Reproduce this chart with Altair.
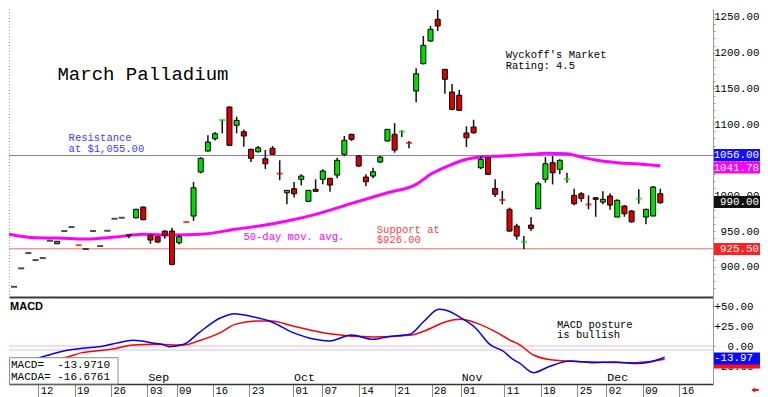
import altair as alt
import pandas as pd
import numpy as np

# ---------------- data ----------------
day_idx = list(range(-4, 87))   # trading-day index, 0 = Aug 12
opens = [872.3, 898.1, 919.5, 909.7, 912.5, 936.7, 932.5, 950.3, 955.9, 930.9,
         925.1, 950.3, 929.3, 950.7, 967.5, 968.9, 944.3, 968.9, 983.9, 944.3,
         942.3, 950.3, 950.3, 934.0, 963.2, 971.3, 1032.9, 1062.3, 1079.5, 1105.2,
         1123.9, 1098.3, 1089.3, 1064.7, 1061.3, 1051.5, 1066.1, 1031.2, 1003.9, 1009.5,
         1022.7, 991.9, 1008.7, 1022.7, 1024.1, 1028.7, 1057.7, 1085.7, 1055.3, 1025.9,
         1027.3, 1046.9, 1076.3, 1085.7, 1089.0, 1074.1, 1146.3, 1184.5, 1216.3, 1246.7,
         1176.7, 1144.9, 1140.3, 1087.5, 1095.9, 1038.9, 1052.9, 1009.8, 994.3, 980.7,
         957.3, 935.1, 958.7, 981.5, 1022.7, 1045.9, 1036.7, 1022.5, 1000.3, 1002.5,
         987.9, 996.9, 990.9, 999.3, 969.9, 985.3, 978.3, 995.3, 969.9, 971.3,
         1002.5]
highs = [872.3, 898.1, 919.5, 909.7, 912.5, 936.7, 936.0, 950.3, 955.9, 930.9,
         925.1, 950.3, 929.3, 950.7, 967.5, 968.9, 945.7, 981.5, 984.5, 945.3,
         942.5, 951.2, 955.0, 944.3, 963.5, 1018.9, 1053.6, 1084.3, 1088.9, 1105.7,
         1124.5, 1110.4, 1092.6, 1065.5, 1069.3, 1063.7, 1069.3, 1049.3, 1007.3, 1018.9,
         1029.7, 1007.8, 1022.7, 1036.7, 1025.0, 1052.9, 1083.3, 1086.5, 1056.7, 1029.7,
         1039.0, 1055.3, 1093.0, 1101.3, 1091.3, 1076.3, 1178.0, 1223.3, 1237.3, 1259.7,
         1177.0, 1156.1, 1148.1, 1096.9, 1106.1, 1055.3, 1053.5, 1022.7, 1006.3, 983.0,
         960.5, 943.3, 969.9, 1019.3, 1053.9, 1055.3, 1050.7, 1031.9, 1009.5, 1004.9,
         1000.3, 997.9, 1006.0, 1003.1, 994.7, 986.7, 979.7, 1008.7, 981.5, 1013.3,
         1009.5]
lows = [872.3, 898.1, 919.5, 909.7, 912.5, 936.7, 932.5, 950.3, 955.9, 930.5,
        925.1, 950.3, 929.3, 950.7, 967.5, 968.9, 940.1, 968.0, 965.5, 932.5,
        934.0, 939.5, 902.3, 931.5, 962.5, 964.6, 1031.1, 1061.8, 1077.2, 1087.1,
        1069.5, 1087.1, 1068.4, 1046.9, 1060.4, 1037.2, 1056.7, 1021.3, 987.7, 997.1,
        1014.3, 991.0, 1005.0, 1015.7, 1005.2, 1024.1, 1055.0, 1076.3, 1039.9, 1013.0,
        1024.1, 1045.9, 1076.0, 1060.0, 1081.9, 1066.1, 1130.5, 1183.6, 1215.4, 1230.3,
        1142.5, 1119.3, 1118.3, 1067.9, 1086.5, 1036.9, 1029.0, 998.0, 987.7, 949.3,
        938.3, 924.7, 950.3, 980.7, 1018.1, 1015.5, 1029.7, 1017.9, 986.3, 991.3,
        980.7, 970.3, 987.7, 980.0, 969.9, 970.3, 961.9, 988.5, 959.9, 971.3,
        988.5]
closes = [872.3, 898.1, 919.5, 909.7, 912.5, 936.7, 936.0, 950.3, 955.9, 930.5,
          925.1, 950.3, 929.3, 950.7, 967.5, 968.9, 944.3, 980.7, 966.1, 937.7,
          934.9, 944.3, 903.7, 942.3, 962.8, 1010.9, 1052.1, 1074.9, 1086.5, 1105.7,
          1070.3, 1105.3, 1083.3, 1052.1, 1066.9, 1044.5, 1057.7, 1030.8, 1007.3, 1002.5,
          1027.3, 1007.3, 1005.9, 1034.3, 1014.7, 1049.3, 1077.3, 1078.7, 1041.3, 1019.3,
          1033.3, 1053.9, 1092.7, 1063.7, 1089.5, 1073.7, 1170.5, 1210.3, 1232.7, 1237.3,
          1162.7, 1120.7, 1119.3, 1080.9, 1087.9, 1050.7, 1029.7, 1001.7, 993.9, 950.3,
          943.3, 935.5, 954.1, 1016.5, 1044.5, 1031.9, 1049.3, 1022.9, 988.5, 996.1,
          987.5, 994.7, 994.7, 986.7, 993.3, 974.5, 963.3, 995.7, 980.7, 1011.9,
          990.0]

ma_idx = [-5, -1, 2, 6, 10, 14, 18, 22, 27, 31, 34, 38, 43, 48, 52, 54, 57, 59,
          61, 64, 68, 70, 73, 75, 77, 80, 83, 86]
ma_val = [946.5, 940.9, 940.5, 939.1, 941.9, 945.7, 944.7, 945.7, 953.1, 958.7,
          964.3, 973.7, 989.1, 1003.9, 1015.7, 1029.7, 1043.7, 1050.7, 1053.9, 1055.3,
          1057.7, 1059.1, 1058.5, 1053.9, 1049.7, 1045.9, 1044.1, 1041.78]

macd_idx = [-1, 1, 4, 6, 9, 11, 13, 16, 17, 18, 20, 22, 25, 27, 29, 32, 35, 38, 40,
            43, 46, 48, 51, 53, 55, 56, 58, 60, 62, 64, 65, 66, 68, 70, 73, 76, 79,
            82, 84, 86]
macd_val = [-18.0, -12.5, -5.4, -2.9, 0.0, 4.2, 7.1, 3.5, 2.1, -0.8, 2.1, 16.0, 35.0,
            40.4, 37.5, 30.4, 16.7, 8.3, 6.25, 13.75, 8.3, 11.7, 14.6, 31.25, 45.8,
            44.6, 35.4, 22.9, 2.1, -7.5, -15.6, -20.8, -33.3, -26.25, -18.75, -20.8,
            -20.0, -22.0, -20.0, -13.97]
sig_idx = [-1, 4, 6, 10, 13, 16, 20, 22, 25, 27, 30, 32, 35, 40, 46, 51, 53, 56, 58,
           60, 63, 65, 66, 68, 71, 75, 82, 86]
sig_val = [-20.0, -13.75, -8.3, -4.2, 1.25, 2.1, 1.25, 6.25, 16.7, 27.0, 31.25, 31.25,
           25.0, 15.4, 11.25, 13.3, 18.75, 30.4, 33.3, 29.2, 16.7, 6.25, 2.1, -11.25,
           -17.9, -19.6, -20.8, -16.68]

tick_idx = [0, 5, 10, 15, 19, 24, 29, 35, 39, 44, 49, 54, 58, 64, 69, 74, 78, 83, 88]
tick_lbl = ["12", "19", "26", "03", "09", "16", "23", "01", "07", "14", "21", "28",
            "01", "11", "18", "25", "02", "09", "16"]
month_idx = [15, 35, 58, 78]
month_lbl = ["Sep", "Oct", "Nov", "Dec"]

resistance = 1056.0
support = 925.5
macd_last = -13.9710
macda_last = -16.6761

# right-hand value boxes (value, label, colour, display shift in price units)
box_vals = [1056.0, 1041.78, 990.0, 925.5]
box_text = ["1056.00", "1041.78", "990.00", "925.50"]
box_fill = ["#1010ff", "#ff00ff", "#111111", "#ff2020"]
box_shift = [0.7, -2.6, 0.9, -0.4]

MONO = "Liberation Mono"

# ---------------- frames ----------------
cand = pd.DataFrame(dict(i=day_idx, o=opens, h=highs, l=lows, c=closes))
cand["dir"] = np.where(cand.c > cand.o, "up", np.where(cand.c < cand.o, "down", "flat"))
cand["body"] = (cand.c - cand.o).abs() >= 1
ma = pd.DataFrame(dict(i=ma_idx, v=ma_val))
macd = pd.DataFrame(dict(i=macd_idx, v=macd_val))
sig = pd.DataFrame(dict(i=sig_idx, v=sig_val))

X_DOM = [-4.0, 92.64]
P_DOM = [858.0, 1261.1]
M_DOM = [-47.5, 60.0]
W = 704
H_TOP = 288
H_BOT = 86
LAB_R = 750          # right edge of the price labels (plot coords)

xs = alt.Scale(domain=X_DOM, nice=False, zero=False)
ps = alt.Scale(domain=P_DOM, nice=False, zero=False)
ms = alt.Scale(domain=M_DOM, nice=False, zero=False)

top_x_axis = alt.Axis(labels=False, ticks=False, domainColor="#3a3a3a", domainWidth=2,
                      grid=False, title=None)
top_y_axis = alt.Axis(orient="right", values=list(range(870, 1251, 10)),
                      labelExpr="datum.value % 50 == 0 ? format(datum.value, '.2f') : ''",
                      tickSize=2, tickColor="#999999", domainColor="#999999",
                      labelAlign="right", labelPadding=LAB_R - W - 2, labelFont=MONO,
                      labelFontSize=10.8, labelColor="#000000", labelOverlap=False,
                      grid=False, title=None)

XT = alt.X("i:Q", scale=xs, axis=top_x_axis)

def YT(field):
    return alt.Y(field, type="quantitative", scale=ps, axis=top_y_axis)

cscale = alt.Scale(domain=["up", "down", "flat"], range=["#00dd00", "#dd0000", "#000000"])

frame_df = pd.DataFrame(dict(k=[0]))
left_dots = alt.Chart(frame_df).mark_rule(color="#9a9a9a", strokeWidth=1,
                                          strokeDash=[1, 2]).encode(
    x=alt.value(0.5), y=alt.value(0), y2=alt.value(H_TOP))

levels = pd.DataFrame(dict(v=[resistance, support], col=["#7676ff", "#ff6a6a"]))
level_rules = alt.Chart(levels).mark_rule(strokeWidth=1).encode(
    y=YT("v"), color=alt.Color("col:N", scale=None))

ma_line = alt.Chart(ma).mark_line(color="#ff00ff", strokeWidth=3, interpolate="monotone",
                                  clip=True).encode(x=XT, y=YT("v"))

wicks = alt.Chart(cand).mark_rule(color="#111111", strokeWidth=1.5, clip=True).encode(
    x=XT, y=YT("l"), y2="h:Q")
bodies = alt.Chart(cand[cand.body]).mark_bar(size=5, stroke="#000000", strokeWidth=1,
                                             orient="vertical", clip=True).encode(
    x=XT, y=YT("o"), y2="c:Q", color=alt.Color("dir:N", scale=cscale, legend=None))
dashes = alt.Chart(cand[~cand.body]).mark_tick(orient="horizontal", size=6,
                                               thickness=2, clip=True).encode(
    x=XT, y=YT("c"), color=alt.Color("dir:N", scale=cscale, legend=None))

ann = pd.DataFrame(dict(
    i=[2.05, 64.46, 3.6, 27.95, 46.52],
    v=[1161.7, 1192.1, 1076.3, 937.3, 947.9],
    t=["March Palladium", "Wyckoff's Market\nRating: 4.5", "Resistance\nat $1,055.00",
       "50-day mov. avg.", "Support at\n$926.00"],
    fs=[19, 10.5, 10.5, 10.5, 10.5],
    col=["#000000", "#000000", "#4040ff", "#ff00ff", "#ff4040"]))
ann_text = alt.Chart(ann).mark_text(align="left", baseline="alphabetic", font=MONO,
                                    lineBreak="\n", lineHeight=10.5).encode(
    x=XT, y=YT("v"), text="t:N", size=alt.Size("fs:Q", scale=None),
    color=alt.Color("col:N", scale=None))

boxes = pd.DataFrame(dict(v=box_vals, t=box_text, fill=box_fill, sh=box_shift))
box_base = alt.Chart(boxes).transform_calculate(
    ctr="datum.v + datum.sh", top="datum.v + datum.sh + 8.4",
    bot="datum.v + datum.sh - 8.4")
box_rect = box_base.mark_rect().encode(
    x=alt.value(705), x2=alt.value(751), y=YT("top"), y2="bot:Q",
    fill=alt.Fill("fill:N", scale=None))
box_lbl = box_base.mark_text(align="right", baseline="middle", font=MONO, fontSize=10.8,
                             color="white").encode(
    x=alt.value(LAB_R), y=YT("ctr"), text="t:N")

top = alt.layer(left_dots, level_rules, ma_line, wicks, bodies, dashes, ann_text,
                box_rect, box_lbl).properties(width=W, height=H_TOP)

# ---------------- MACD panel ----------------
lab_expr = "''"
for ti, tl in reversed(list(zip(tick_idx, tick_lbl))):
    lab_expr = f"datum.value == {ti} ? '{tl}' : ({lab_expr})"

bot_x_axis = alt.Axis(values=tick_idx, labelExpr=lab_expr, tickSize=14, tickColor="#8a8a8a",
                      domainColor="#333333", domainWidth=1.5, labelAlign="left",
                      labelBaseline="middle", labelPadding=-7.5, labelOffset=2,
                      labelFont=MONO, labelFontSize=10.5, labelColor="#000000",
                      labelOverlap=False, labelFlush=False, grid=False, title=None)
bot_y_axis = alt.Axis(orient="right", values=[-25, 0, 25, 50],
                      labelExpr="datum.value > 0 ? '+' + format(datum.value, '.2f') : format(datum.value, '.2f')",
                      tickSize=2, tickColor="#999999", domainColor="#999999",
                      labelAlign="right", labelPadding=LAB_R - 6 - W - 2, labelFont=MONO,
                      labelFontSize=10.8, labelColor="#000000", labelOverlap=False,
                      grid=False, title=None)
XB = alt.X("i:Q", scale=xs, axis=bot_x_axis)

def YB(field):
    return alt.Y(field, type="quantitative", scale=ms, axis=bot_y_axis)

mlev = pd.DataFrame(dict(v=[0.0, -5.0], col=["#ffb4b4", "#c4c4ff"]))
m_rules = alt.Chart(mlev).mark_rule(strokeWidth=1).encode(
    y=YB("v"), color=alt.Color("col:N", scale=None))
sig_line = alt.Chart(sig).mark_line(color="#ff0000", strokeWidth=1.5,
                                    interpolate="monotone").encode(x=XB, y=YB("v"))
macd_line = alt.Chart(macd).mark_line(color="#0000ff", strokeWidth=1.5,
                                      interpolate="monotone").encode(x=XB, y=YB("v"))

months = pd.DataFrame(dict(i=month_idx, t=month_lbl, v=[-43.75] * 4))
month_text = alt.Chart(months).mark_text(align="left", baseline="alphabetic", font=MONO,
                                         fontSize=11.5, dx=1, color="#000000").encode(
    x=XB, y=YB("v"), text="t:N")

mann = pd.DataFrame(dict(i=[71.23], v=[22.9], t=["MACD posture\nis bullish"]))
mann_text = alt.Chart(mann).mark_text(align="left", baseline="alphabetic", font=MONO,
                                      fontSize=10.5, lineBreak="\n", lineHeight=10,
                                      color="#000000").encode(
    x=XB, y=YB("v"), text="t:N")

mtitle = pd.DataFrame(dict(i=[-3.86], v=[44.6], t=["MACD"]))
mtitle_text = alt.Chart(mtitle).mark_text(align="left", baseline="alphabetic",
                                          font="Liberation Sans", fontSize=11,
                                          fontWeight="bold", color="#000000").encode(
    x=XB, y=YB("v"), text="t:N")

legend_box = alt.Chart(frame_df).mark_rect(fill="white", stroke="#8c8c8c",
                                           strokeWidth=1).encode(
    x=alt.value(0.5), x2=alt.value(109), y=alt.value(59.7), y2=alt.value(86))
leg = pd.DataFrame(dict(name=["MACD=", "MACDA="],
                        val=[f"{macd_last:.4f}", f"{macda_last:.4f}"],
                        yy=[69.7, 82.3]))
leg_names = alt.Chart(leg).mark_text(align="left", baseline="alphabetic", font=MONO,
                                     fontSize=11, color="#000000").encode(
    x=alt.value(2), y=alt.Y("yy:Q", scale=None), text="name:N")
leg_vals = alt.Chart(leg).mark_text(align="right", baseline="alphabetic", font=MONO,
                                    fontSize=11, color="#000000").encode(
    x=alt.value(101), y=alt.Y("yy:Q", scale=None), text="val:N")

mbox = pd.DataFrame(dict(v=[macda_last, macd_last], t=["", "-13.97"],
                         fill=["#ff1010", "#0a0aff"], sh=[-3.9, -1.6]))
mbox_base = alt.Chart(mbox).transform_calculate(
    ctr="datum.v + datum.sh", top="datum.v + datum.sh + 7.5",
    bot="datum.v + datum.sh - 7.5")
mbox_rect = mbox_base.mark_rect().encode(
    x=alt.value(705), x2=alt.value(751), y=YB("top"), y2="bot:Q",
    fill=alt.Fill("fill:N", scale=None))
mbox_lbl = mbox_base.mark_text(align="right", baseline="middle", font=MONO, fontSize=10.8,
                               color="white").encode(
    x=alt.value(LAB_R - 6), y=YB("ctr"), text="t:N")

arrow_path = "M -1 0 L 0 -0.7 L 0 -0.3 L 1 -0.3 L 1 0.3 L 0 0.3 L 0 0.7 Z"
arrow = alt.Chart(frame_df).mark_point(shape=arrow_path, filled=True, size=55,
                                       color="#ee1111", opacity=1).encode(
    x=alt.value(746), y=alt.value(92))

bottom = alt.layer(m_rules, sig_line, macd_line, month_text, mann_text, mtitle_text,
                   legend_box, leg_names, leg_vals, mbox_rect, mbox_lbl,
                   arrow).properties(width=W, height=H_BOT)

chart = alt.vconcat(top, bottom, spacing=0).properties(
    padding=0, background="white").configure_view(stroke=None)

chart.save("out.html", embed_options={"renderer": "svg", "actions": False})
